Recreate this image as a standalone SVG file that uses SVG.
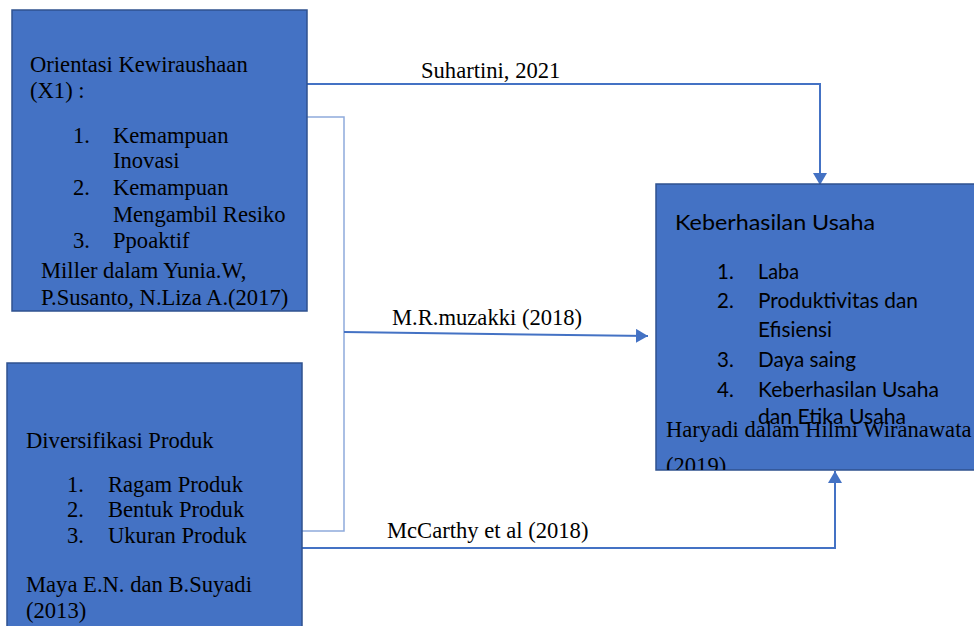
<svg xmlns="http://www.w3.org/2000/svg" width="974" height="626" viewBox="0 0 974 626">
<style>
.box{fill:#4472C4;stroke:#2F528F;stroke-width:1.5}
.t{font-family:"Liberation Serif","Times New Roman",serif;font-size:22.6px;fill:#000}
.s{font-family:Lato,"Noto Sans",sans-serif;font-size:20.5px;fill:#000}
.c{fill:none;stroke:#4472C4;stroke-width:2}
.thin{fill:none;stroke:#8FAADC;stroke-width:1.5}
</style>
<defs>
<marker id="ah" markerUnits="userSpaceOnUse" markerWidth="13" markerHeight="14" refX="12" refY="7" orient="auto">
<path d="M0,0 L12,7 L0,14 z" fill="#4472C4"/>
</marker>
<clipPath id="c3"><rect x="656" y="184" width="330" height="286"/></clipPath>
</defs>
<rect width="974" height="626" fill="#fff"/>
<g id="connectors">
<polyline class="c" points="307,84 820,84 820,185" marker-end="url(#ah)"/>
<polyline class="thin" points="307,117 344,117 344,531 302,531"/>
<line class="c" x1="344" y1="332" x2="648" y2="336" marker-end="url(#ah)"/>
<polyline class="c" points="302,548 835,548 835,471" marker-end="url(#ah)"/>
<text class="t" x="421" y="78">Suhartini, 2021</text>
<text class="t" x="392" y="325">M.R.muzakki (2018)</text>
<text class="t" x="387" y="538">McCarthy et al (2018)</text>
</g>
<g id="node-x1">
<rect class="box" x="12" y="10" width="295" height="301"/>
<text class="t" x="30" y="72">Orientasi Kewiraushaan</text>
<text class="t" x="30" y="98">(X1) :</text>
<text class="t" x="73" y="143">1.</text><text class="t" x="113" y="143">Kemampuan</text>
<text class="t" x="113" y="168">Inovasi</text>
<text class="t" x="73" y="195">2.</text><text class="t" x="113" y="195">Kemampuan</text>
<text class="t" x="113" y="222">Mengambil Resiko</text>
<text class="t" x="73" y="248">3.</text><text class="t" x="113" y="248">Ppoaktif</text>
<text class="t" x="41" y="278">Miller dalam Yunia.W,</text>
<text class="t" x="41" y="305">P.Susanto, N.Liza A.(2017)</text>
</g>
<g id="node-x2">
<rect class="box" x="7" y="363" width="295" height="280"/>
<text class="t" x="26" y="448">Diversifikasi Produk</text>
<text class="t" x="67" y="492">1.</text><text class="t" x="108" y="492">Ragam Produk</text>
<text class="t" x="67" y="517">2.</text><text class="t" x="108" y="517">Bentuk Produk</text>
<text class="t" x="67" y="543">3.</text><text class="t" x="108" y="543">Ukuran Produk</text>
<text class="t" x="26" y="592">Maya E.N. dan B.Suyadi</text>
<text class="t" x="26" y="618">(2013)</text>
</g>
<g id="node-y">
<rect class="box" x="656" y="184" width="330" height="286"/>
<g clip-path="url(#c3)">
<text class="s" x="675" y="230" font-size="22" textLength="200" lengthAdjust="spacingAndGlyphs">Keberhasilan Usaha</text>
<text class="s" x="717" y="279">1.</text><text class="s" x="758" y="279" textLength="41" lengthAdjust="spacingAndGlyphs">Laba</text>
<text class="s" x="717" y="308">2.</text><text class="s" x="758" y="308" textLength="160" lengthAdjust="spacingAndGlyphs">Produktivitas dan</text>
<text class="s" x="758" y="337" textLength="74" lengthAdjust="spacingAndGlyphs">Efisiensi</text>
<text class="s" x="717" y="367">3.</text><text class="s" x="758" y="367" textLength="98" lengthAdjust="spacingAndGlyphs">Daya saing</text>
<text class="s" x="717" y="397">4.</text><text class="s" x="758" y="397" textLength="181" lengthAdjust="spacingAndGlyphs">Keberhasilan Usaha</text>
<text class="s" x="758" y="424" textLength="148" lengthAdjust="spacingAndGlyphs">dan Etika Usaha</text>
<text class="t" x="666" y="437">Haryadi dalam Hilmi Wiranawata</text>
<text class="t" x="666" y="473">(2019)</text>
</g>
</g>
</svg>
